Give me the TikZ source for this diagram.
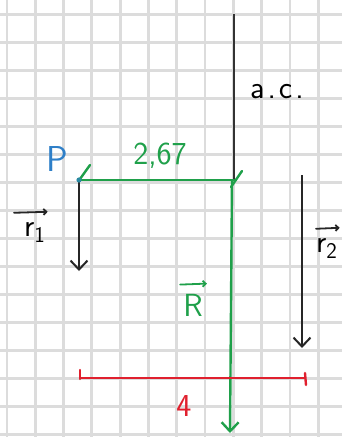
\documentclass[tikz,border=0pt]{standalone}
\usepackage{tikz}
\usetikzlibrary{arrows.meta,positioning,calc}
\definecolor{gridgray}{HTML}{DCDCDC}
\definecolor{penGreen}{HTML}{1FA04A}
\definecolor{penRed}{HTML}{E0202E}
\definecolor{penBlue}{HTML}{2E7FC8}

\begin{document}
\begin{tikzpicture}[
  x=1pt, y=-1pt,
  gridline/.style={draw=gridgray, line width=2.8pt},
  axisline/.style={draw=black!80, line width=1.6pt},
  force/.style={-{Straight Barb[length=9pt,width=17pt,line width=2pt]}, line width=1.8pt, black!85},
  resultant/.style={-{Straight Barb[length=9pt,width=17pt,line width=2.4pt]}, line width=2.4pt, penGreen},
  vecmark/.style={-{Straight Barb[length=3pt,width=6pt]}, line width=1.8pt, line cap=round},
  dist/.style={line width=2.4pt, line cap=round},
  lbl/.style={font=\sffamily\fontsize{32}{34}\selectfont, inner sep=0pt}
]
% paper
\fill[white] (0,0) rectangle (342,437);
\useasboundingbox (0,0) rectangle (342,437);
\foreach \i in {0,...,11}
  \draw[gridline] ({6.9+28.3*\i},0) -- ({6.9+28.3*\i},437);
\foreach \j in {0,...,15}
  \draw[gridline] (0,{14.7+28*\j}) -- (342,{14.7+28*\j});

% points
\coordinate (acTop) at (234,14);
\coordinate (acFoot) at (234,180);
\coordinate (P) at (79,180);
\coordinate (r1end) at (79,271);
\coordinate (r2top) at (302,175);
\coordinate (r2end) at (302,348);
\coordinate (Rtop) at (232,180);
\coordinate (Rend) at (230,433);
\coordinate (dA) at (80,378);
\coordinate (dB) at (305,378);

% axis of the resultant
\draw[axisline] (acTop) -- (acFoot);
\node[lbl, anchor=base west] (ac) at (250,98) {a\kern3pt.\kern3pt c\kern3pt.};

% forces
\draw[force] (P) -- (r1end);
\draw[force] (r2top) -- (r2end);
\node[lbl, anchor=base west] (r1) at (24,236) {r\textsubscript{1}};
\node[lbl, anchor=base west] (r2) at (316,252) {r\textsubscript{2}};
\draw[vecmark, black!85] ([xshift=-10pt,yshift=9pt]r1.north west) -- ([xshift=2pt,yshift=10pt]r1.north east);
\draw[vecmark, black!85] ([xshift=0pt,yshift=9pt]r2.north west) -- ([xshift=2pt,yshift=10pt]r2.north east);

% lever arm 2,67
\draw[dist, penGreen] (P) -- (acFoot);
\draw[dist, penGreen] ($(P)+(1,-1)$) -- ($(P)+(11,-15)$);
\draw[dist, penGreen] ($(acFoot)+(-3,7)$) -- ($(acFoot)+(8,-9)$);
\node[lbl, text=penGreen] (arm) at (160,156) {2,67};

% resultant
\draw[resultant] (Rtop) -- (Rend);
\node[lbl, text=penGreen, anchor=base] (R) at (193,316) {R};
\draw[vecmark, penGreen] ([xshift=-3pt,yshift=9pt]R.north west) -- ([xshift=4pt,yshift=10pt]R.north east);

% point P
\fill[penBlue!70!penGreen] (P) circle (2.6pt);
\node[lbl, text=penBlue, font=\sffamily\fontsize{36}{38}\selectfont, anchor=base] (Plbl) at (57,171) {P};

% distance 4
\draw[dist, penRed] (dA) -- (dB);
\draw[dist, penRed] ($(dA)+(0,-8)$) -- ($(dA)+(0,1)$);
\draw[dist, penRed] ($(dB)+(0,-5)$) -- ($(dB)+(1,7)$);
\node[lbl, text=penRed, anchor=base] (four) at (184,416) {4};
\end{tikzpicture}
\end{document}
